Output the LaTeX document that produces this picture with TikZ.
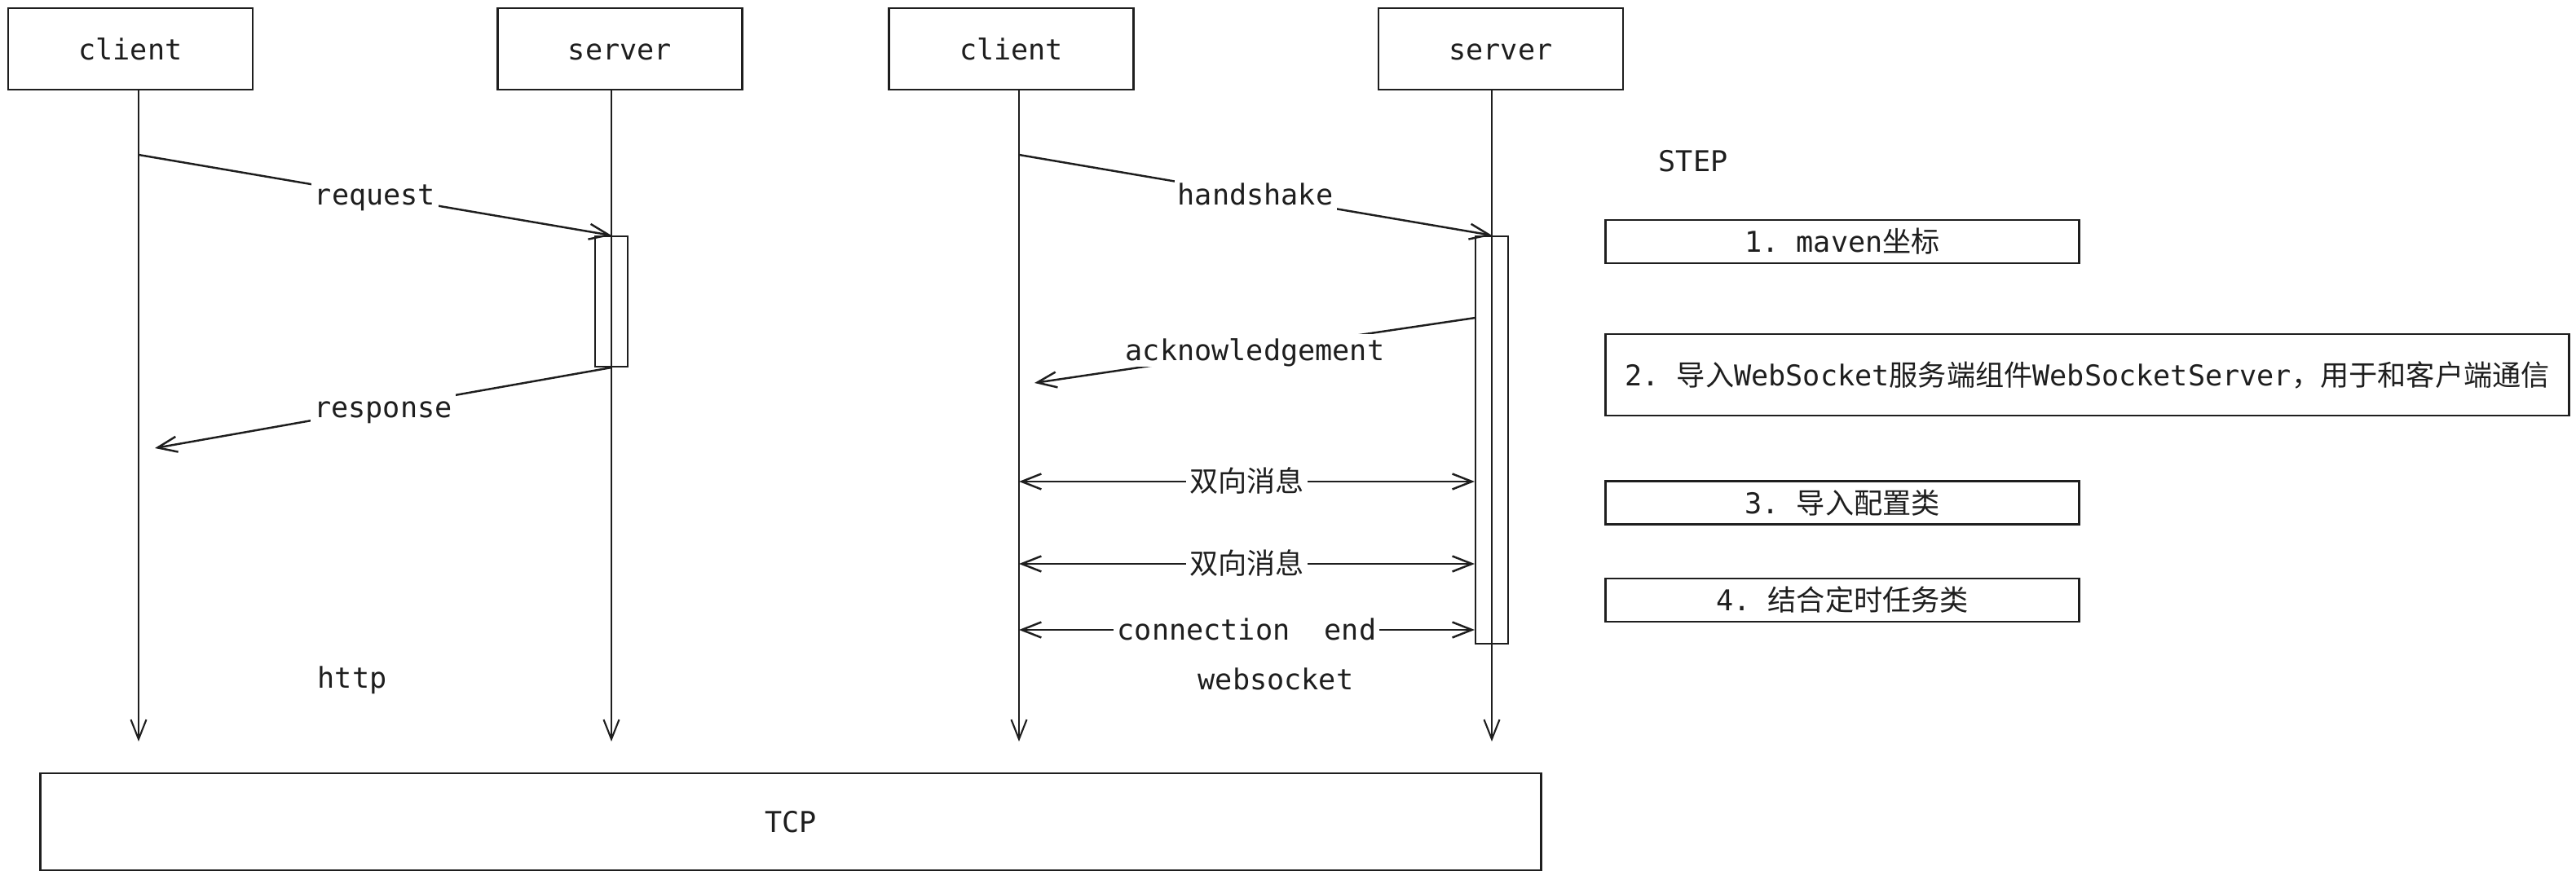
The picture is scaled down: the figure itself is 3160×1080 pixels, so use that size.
\documentclass[tikz,border=0pt]{standalone}
\usepackage{fontspec}
\setmonofont{DejaVu Sans Mono}
\newfontfamily\cjk{Noto Sans CJK SC}
\usepackage{xcolor}
\usepackage{tikz}
\usetikzlibrary{calc, arrows.meta, positioning}
\definecolor{ink}{HTML}{1E1E1E}
\tikzset{
    boxnode/.style = {draw=ink, rectangle, line width=0.8pt, minimum width=3cm, minimum height=1cm, 
      inner sep=0em, text height=0.8em, text depth=0.05em, node distance=0em},
    stepnode/.style = {draw=ink, rectangle, line width=0.8pt, minimum width=5.8cm, minimum height=0.53cm, 
      inner sep=0em, text height=0.8em, text depth=0.05em, node distance=0em},
    barnode/.style = {draw=ink, rectangle, line width=0.6pt, minimum width=0.4cm, inner sep=0em},
    textnode/.style = {draw=none, fill=none, rectangle, inner sep=0em, node distance=0em},
    labelnode/.style = {fill=white, inner sep=0.12em, text height=0.8em, text depth=0.1em},
    lifeline/.style = {ink, line width=0.6pt, ->},
    msg/.style = {ink, line width=0.7pt, ->},
    dmsg/.style = {ink, line width=0.7pt, <->},
    every node/.style = {text=ink, font=\ttfamily\fontsize{10pt}{12pt}\selectfont}
}

\begin{document}
\begin{tikzpicture}[x=0.01cm, y=-0.01cm, >={Straight Barb[length=2.4mm, width=1.9mm]}]
    \useasboundingbox (0,0) rectangle (3160,1080);

    \node [name=client1, boxnode] at (160,60) {client};
    \node [name=server1, boxnode, right of=client1, xshift=6cm] {server};
    \node [name=client2, boxnode, right of=server1, xshift=4.8cm] {client};
    \node [name=server2, boxnode, right of=client2, xshift=6cm] {server};

    \coordinate (c1end) at (170,910);
    \coordinate (s1end) at (750,910);
    \coordinate (c2end) at (1250,910);
    \coordinate (s2end) at (1830,910);
    \draw [lifeline] (client1.south -| c1end) -- (c1end);
    \draw [lifeline] (server1.south -| s1end) -- (s1end);
    \draw [lifeline] (client2.south -| c2end) -- (c2end);
    \draw [lifeline] (server2.south -| s2end) -- (s2end);

    \node [name=act1, barnode, minimum height=1.6cm] at (750,370) {};
    \node [name=act2, barnode, minimum height=5cm] at (1830,540) {};

    \coordinate (req) at (170,190);
    \coordinate (resp) at (190,550);
    \draw (req) edge[msg] node [labelnode] {request} (act1.north);
    \draw (act1.south) edge[msg] node [labelnode] {response} (resp);

    \coordinate (hs) at (1250,190);
    \coordinate (ackfrom) at (1810,390);
    \coordinate (ackto) at (1269,470);
    \draw (hs) edge[msg] node [labelnode] {handshake} (act2.north);
    \draw (ackfrom) edge[msg] node [labelnode] {acknowledgement} (ackto);

    \coordinate (bi1) at (1250,591);
    \coordinate (bi2) at (1250,692);
    \coordinate (fin) at (1250,773);
    \draw (bi1) edge[dmsg] node [labelnode] {\cjk 双向消息} (act2.west |- bi1);
    \draw (bi2) edge[dmsg] node [labelnode] {\cjk 双向消息} (act2.west |- bi2);
    \draw (fin) edge[dmsg] node [labelnode] {connection\ \ end} (act2.west |- fin);

    \node [name=http, textnode] at (432,835) {http};
    \node [name=ws, textnode] at (1565,833) {websocket};
    \node [name=tcp, boxnode, minimum width=18.4cm, minimum height=1.19cm] at (970,1008.5) {TCP};

    \node [name=step, textnode] at (2077,198) {STEP};
    \node [name=step1, stepnode] at (2260,296.5) {1. maven{\cjk 坐标}};
    \node [name=step2, stepnode, minimum width=11.81cm, minimum height=1cm] at (2560.5,460) 
      {2. {\cjk 导入}WebSocket{\cjk 服务端组件}WebSocketServer{\cjk ，用于和客户端通信}};
    \node [name=step3, stepnode] at (2260,617) {3. {\cjk 导入配置类}};
    \node [name=step4, stepnode] at (2260,736.5) {4. {\cjk 结合定时任务类}};
\end{tikzpicture}
\end{document}
